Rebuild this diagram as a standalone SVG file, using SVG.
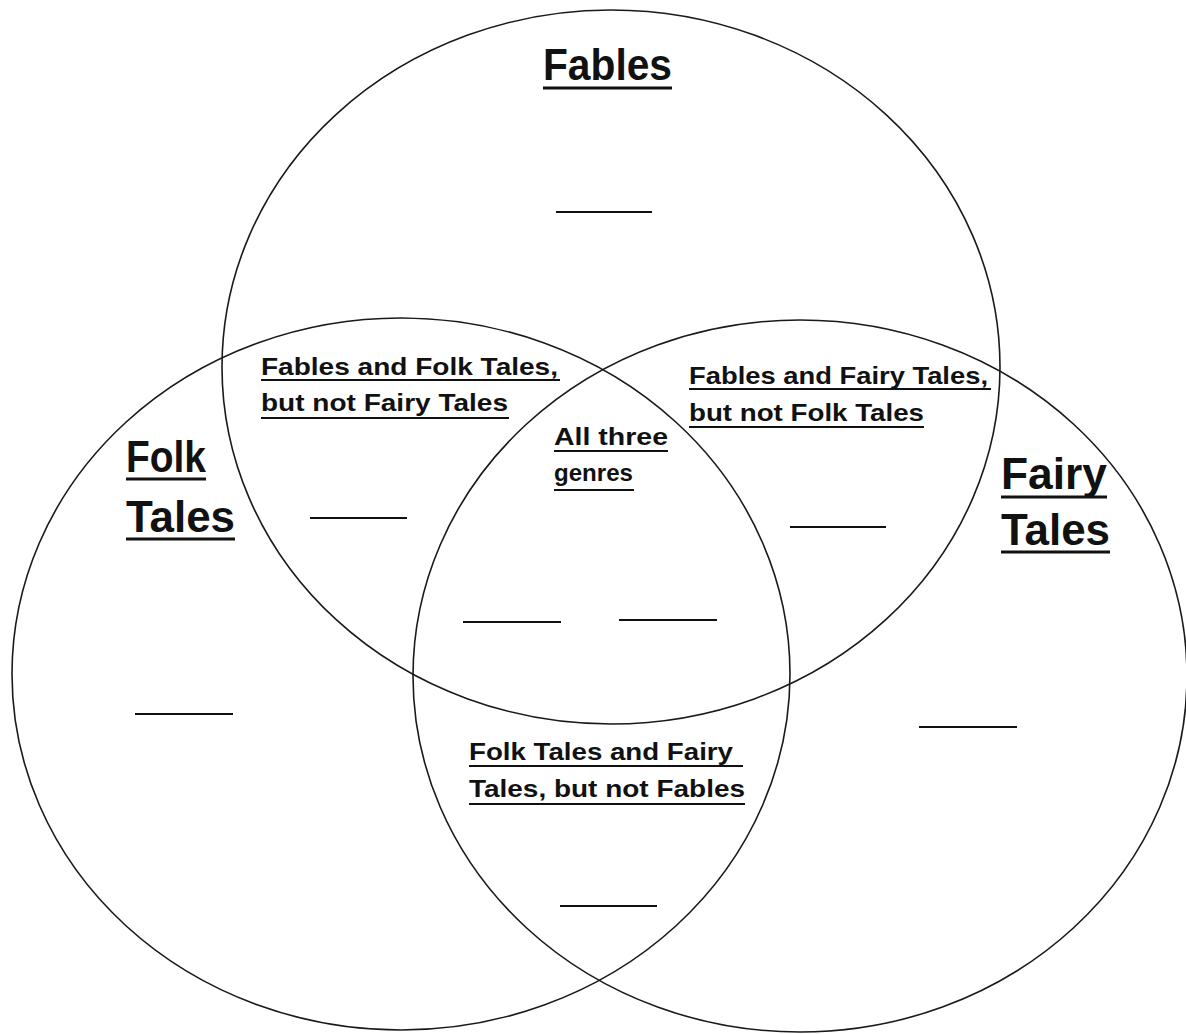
<svg xmlns="http://www.w3.org/2000/svg" width="1186" height="1034" viewBox="0 0 1186 1034">
<style>
.c{fill:none;stroke:#1a1a1a;stroke-width:1.6}
.big{font-family:"Liberation Sans",Arial,sans-serif;font-weight:bold;font-size:44px;fill:#111}
.sm{font-family:"Liberation Sans",Arial,sans-serif;font-weight:bold;font-size:24px;fill:#111}
.u{stroke:#111;stroke-width:2}
.U{stroke:#111;stroke-width:3}
.b{stroke:#111;stroke-width:2}
</style>
<rect width="1186" height="1034" fill="#fff"/>
<g id="fables-circle"><ellipse class="c" cx="611" cy="367" rx="389" ry="357"/></g>
<g id="folk-circle"><ellipse class="c" cx="401" cy="674" rx="389" ry="356"/></g>
<g id="fairy-circle"><ellipse class="c" cx="800" cy="676" rx="387" ry="356"/></g>
<g id="fables-label">
<text class="big" x="543" y="80" textLength="129" lengthAdjust="spacingAndGlyphs">Fables</text>
<line class="U" x1="543" y1="88" x2="672" y2="88"/>
</g>
<g id="folk-label">
<text class="big" x="126" y="472" textLength="80" lengthAdjust="spacingAndGlyphs">Folk</text>
<line class="U" x1="126" y1="479" x2="206" y2="479"/>
<text class="big" x="126" y="532" textLength="109" lengthAdjust="spacingAndGlyphs">Tales</text>
<line class="U" x1="126" y1="539" x2="235" y2="539"/>
</g>
<g id="fairy-label">
<text class="big" x="1001" y="489" textLength="106" lengthAdjust="spacingAndGlyphs">Fairy</text>
<line class="U" x1="1001" y1="497" x2="1107" y2="497"/>
<text class="big" x="1001" y="545" textLength="109" lengthAdjust="spacingAndGlyphs">Tales</text>
<line class="U" x1="1001" y1="552" x2="1110" y2="552"/>
</g>
<g id="fables-folk">
<text class="sm" x="261" y="375" textLength="297" lengthAdjust="spacingAndGlyphs">Fables and Folk Tales,</text>
<line class="u" x1="261" y1="380" x2="560" y2="380"/>
<text class="sm" x="261" y="411" textLength="247" lengthAdjust="spacingAndGlyphs">but not Fairy Tales</text>
<line class="u" x1="261" y1="418" x2="509" y2="418"/>
<line class="b" x1="310" y1="518" x2="407" y2="518"/>
</g>
<g id="fables-fairy">
<text class="sm" x="689" y="384" textLength="299" lengthAdjust="spacingAndGlyphs">Fables and Fairy Tales,</text>
<line class="u" x1="689" y1="389" x2="991" y2="389"/>
<text class="sm" x="689" y="421" textLength="235" lengthAdjust="spacingAndGlyphs">but not Folk Tales</text>
<line class="u" x1="689" y1="427" x2="924" y2="427"/>
<line class="b" x1="790" y1="527" x2="886" y2="527"/>
</g>
<g id="all-three">
<text class="sm" x="554" y="445" textLength="114" lengthAdjust="spacingAndGlyphs">All three</text>
<line class="u" x1="554" y1="451" x2="668" y2="451"/>
<text class="sm" x="554" y="481" textLength="79" lengthAdjust="spacingAndGlyphs">genres</text>
<line class="u" x1="554" y1="490" x2="634" y2="490"/>
<line class="b" x1="463" y1="622" x2="561" y2="622"/>
<line class="b" x1="619" y1="620" x2="717" y2="620"/>
</g>
<g id="folk-fairy">
<text class="sm" x="469" y="760" textLength="264" lengthAdjust="spacingAndGlyphs">Folk Tales and Fairy</text>
<line class="u" x1="469" y1="766" x2="743" y2="766"/>
<text class="sm" x="469" y="797" textLength="276" lengthAdjust="spacingAndGlyphs">Tales, but not Fables</text>
<line class="u" x1="469" y1="804" x2="745" y2="804"/>
<line class="b" x1="560" y1="906" x2="657" y2="906"/>
</g>
<g id="fables-only"><line class="b" x1="556" y1="212" x2="652" y2="212"/></g>
<g id="folk-only"><line class="b" x1="135" y1="714" x2="233" y2="714"/></g>
<g id="fairy-only"><line class="b" x1="919" y1="727" x2="1017" y2="727"/></g>
</svg>
